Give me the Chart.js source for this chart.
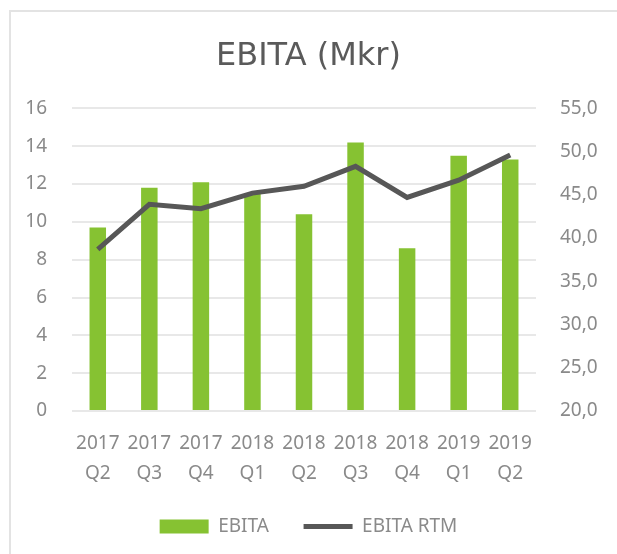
<!DOCTYPE html>
<html>
<head>
<meta charset="utf-8">
<script src="https://cdn.jsdelivr.net/npm/chart.js"></script>
<style>
  body { margin: 0; background: #fff; overflow: hidden; }
  #ram { position: absolute; left: 9px; top: 10px; width: 620px; height: 560px;
         border-left: 2px solid #e3e3e3; border-top: 2px solid #e3e3e3; }
  canvas { position: absolute; left: 0; top: 0; }
</style>
</head>
<body>
<div id="ram"></div>
<canvas id="ebita_grafica" width="617" height="554"></canvas>
<script>
const kvartal = [
  ["2017", "Q2"], ["2017", "Q3"], ["2017", "Q4"],
  ["2018", "Q1"], ["2018", "Q2"], ["2018", "Q3"], ["2018", "Q4"],
  ["2019", "Q1"], ["2019", "Q2"]
];
const ebita = [9.7, 11.8, 12.1, 11.5, 10.4, 14.2, 8.6, 13.5, 13.3];
const ebitaRtm = [38.7, 43.9, 43.4, 45.2, 46.0, 48.3, 44.7, 46.7, 49.6];

const typsnitt = "'Noto Sans', sans-serif";
const gra = "#8a8a8a";

const ctx = document.getElementById("ebita_grafica").getContext("2d");

new Chart(ctx, {
  type: "bar",
  data: {
    labels: kvartal,
    datasets: [
      {
        label: "EBITA",
        data: ebita,
        backgroundColor: "#86c232",
        borderWidth: 0,
        yAxisID: "y",
        order: 2,
        pointStyle: "rect",
        categoryPercentage: 1,
        barPercentage: 0.32,
      },
      {
        type: "line",
        label: "EBITA RTM",
        data: ebitaRtm,
        borderColor: "#575757",
        backgroundColor: "#575757",
        borderWidth: 5,
        pointRadius: 0,
        pointStyle: "line",
        tension: 0,
        yAxisID: "y1",
        order: 1,
      },
    ],
  },
  options: {
    responsive: false,
    animation: false,
    layout: { padding: { left: 0, right: 0, top: 37, bottom: 8 } },
    scales: {
      x: {
        grid: { display: false },
        border: { display: false },
        ticks: {
          color: gra,
          font: { family: typsnitt, size: 19, lineHeight: 1.58 },
          autoSkip: false,
          maxRotation: 0,
          padding: 10,
        },
        afterFit: s => { s.height = 96; },
      },
      y: {
        position: "left",
        min: 0,
        max: 16,
        border: { display: false },
        grid: { color: "#e8e8e8", lineWidth: 2, drawTicks: false },
        ticks: {
          stepSize: 2,
          color: gra,
          font: { family: typsnitt, size: 19 },
          padding: 25,
        },
        afterFit: s => { s.width = 72; },
      },
      y1: {
        position: "right",
        min: 20,
        max: 55,
        border: { display: false },
        grid: { drawOnChartArea: false, drawTicks: false },
        ticks: {
          stepSize: 5,
          color: gra,
          font: { family: typsnitt, size: 19 },
          padding: 24,
          callback: v => v.toFixed(1).replace(".", ","),
        },
        afterFit: s => { s.width = 81; },
      },
    },
    plugins: {
      title: {
        display: true,
        text: "EBITA (Mkr)",
        color: "#5a5a5a",
        font: { family: "'DejaVu Sans', sans-serif", size: 32, weight: "normal" },
        padding: { top: 0, bottom: 33 },
      },
      legend: {
        position: "bottom",
        labels: {
          usePointStyle: true,
          pointStyleWidth: 49,
          boxHeight: 14,
          color: gra,
          font: { family: typsnitt, size: 19 },
          padding: 10,
          sort: (a, b) => a.datasetIndex - b.datasetIndex,
          generateLabels: chart => {
            const items = Chart.defaults.plugins.legend.labels.generateLabels(chart);
            // lite extra luft efter första posten
            items.forEach(it => { if (it.datasetIndex === 0) it.text = it.text + "     "; });
            return items;
          },
        },
      },
      tooltip: { enabled: false },
    },
  },
});
</script>
</body>
</html>
